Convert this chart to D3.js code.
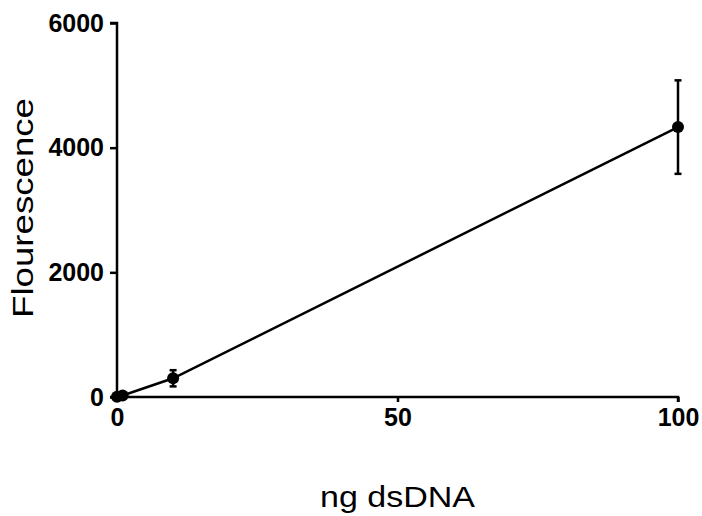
<!DOCTYPE html>
<html><head><meta charset="utf-8">
<script src="https://cdn.jsdelivr.net/npm/d3@7"></script>
<style>body{margin:0;background:#fff}</style>
</head><body>
<svg id="c" width="702" height="516"></svg>
<script>
const xValues = [0, 1, 10, 100];
const yMeans = [5, 25, 300, 4330];
const yErrors = [10, 15, 130, 750];
const xTicks = [0, 50, 100];
const yTicks = [0, 2000, 4000, 6000];

const svg = d3.select("#c");
const x = d3.scaleLinear().domain([0, 100]).range([117, 678]);
const y = d3.scaleLinear().domain([0, 6000]).range([397, 23]);
const data = xValues.map((v, i) => ({x: v, y: yMeans[i], e: yErrors[i]}));
const font = "Liberation Sans, Arial, sans-serif";

const xAxis = svg.append("g").attr("transform", "translate(0,397)")
  .call(d3.axisBottom(x).tickValues(xTicks).tickSize(5).tickPadding(6).tickFormat(d3.format("d")));
const yAxis = svg.append("g").attr("transform", "translate(117,0)")
  .call(d3.axisLeft(y).tickValues(yTicks).tickSize(7).tickPadding(6).tickFormat(d3.format("d")));
[xAxis, yAxis].forEach(a => {
  a.select(".domain").attr("stroke", "#000").attr("stroke-width", 2.5);
  a.selectAll(".tick line").attr("stroke", "#000").attr("stroke-width", 2.5);
  a.selectAll(".tick text").attr("fill", "#000")
    .style("font-family", font)
    .style("font-weight", "bold").style("font-size", "25px");
});
xAxis.select(".domain").attr("d", `M${x(0)},5V0H${x(100)}V5`);
yAxis.select(".domain").attr("d", `M-7,${y(6000)}H0V${y(0)}H-7`);

const line = d3.line().x(d => x(d.x)).y(d => y(d.y));
svg.append("path").datum(data).attr("d", line)
  .attr("fill", "none").attr("stroke", "#000").attr("stroke-width", 2.5);

const eb = svg.append("g").attr("stroke", "#000").attr("stroke-width", 2.5);
data.forEach(d => {
  eb.append("line").attr("x1", x(d.x)).attr("x2", x(d.x)).attr("y1", y(d.y - d.e)).attr("y2", y(d.y + d.e));
  eb.append("line").attr("x1", x(d.x) - 3.5).attr("x2", x(d.x) + 3.5).attr("y1", y(d.y - d.e)).attr("y2", y(d.y - d.e));
  eb.append("line").attr("x1", x(d.x) - 3.5).attr("x2", x(d.x) + 3.5).attr("y1", y(d.y + d.e)).attr("y2", y(d.y + d.e));
});

svg.append("g").selectAll("circle").data(data).join("circle")
  .attr("cx", d => x(d.x)).attr("cy", d => y(d.y)).attr("r", 6).attr("fill", "#000");

svg.append("text").attr("x", 397.5).attr("y", 507).attr("text-anchor", "middle")
  .attr("textLength", 155).attr("lengthAdjust", "spacingAndGlyphs")
  .style("font-family", font).style("font-size", "30px").text("ng dsDNA");
svg.append("text").attr("transform", "translate(33,208) rotate(-90)").attr("text-anchor", "middle")
  .attr("textLength", 220).attr("lengthAdjust", "spacingAndGlyphs")
  .style("font-family", font).style("font-size", "30px").text("Flourescence");
</script>
</body></html>
